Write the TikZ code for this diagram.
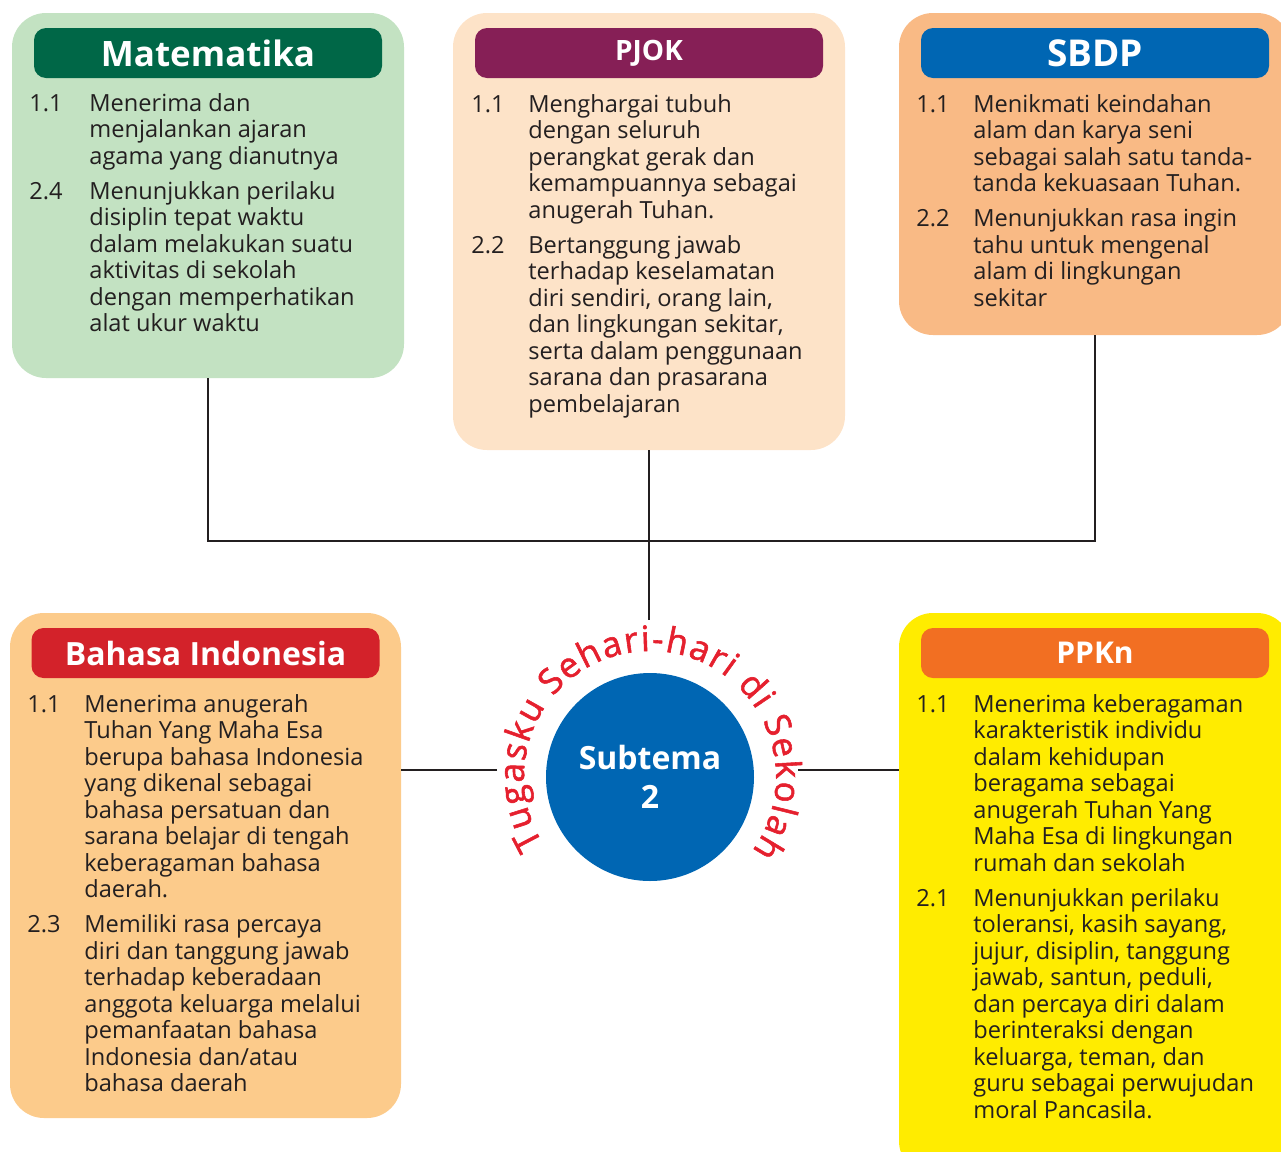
\documentclass[tikz,border=0pt]{standalone}
\usepackage{fontspec}
\setmainfont{Open Sans}
\newfontfamily\arcfont[FakeBold=1.6]{Open Sans}
\usetikzlibrary{positioning}
\usetikzlibrary{decorations.text}

\definecolor{ink}{HTML}{231F20}
\definecolor{matbg}{HTML}{C3E2C2}
\definecolor{mathead}{HTML}{006747}
\definecolor{pjokbg}{HTML}{FDE3C8}
\definecolor{pjokhead}{HTML}{861F56}
\definecolor{sbdpbg}{HTML}{F9BA85}
\definecolor{sbdphead}{HTML}{0066B3}
\definecolor{bibg}{HTML}{FCCB8B}
\definecolor{bihead}{HTML}{D3222A}
\definecolor{ppknbg}{HTML}{FFEC00}
\definecolor{ppknhead}{HTML}{F26F22}
\definecolor{subblue}{HTML}{0066B3}
\definecolor{arcred}{HTML}{E5202E}

\begin{document}
\begin{tikzpicture}[x=0.5pt,y=0.5pt,
    box/.style={rounded corners=17pt,minimum width=196pt,inner sep=0pt},
    head/.style={rounded corners=6pt,minimum width=174pt,minimum height=25pt,inner sep=0pt,text=white},
    body/.style={anchor=north west,inner sep=0pt,text=ink,font=\fontsize{11.8}{13.25}\selectfont},
    line/.style={draw=ink,line width=1.2pt}]
  \useasboundingbox (0,0) rectangle (1281,-1152);

  % boxes
  \node[box,fill=matbg,minimum height=182.5pt] (mat) at (208,-195.5) {};
  \node[box,fill=pjokbg,minimum height=218.5pt] (pjok) at (649,-231.5) {};
  \node[box,fill=sbdpbg,minimum height=161pt] (sbdp) at (1095,-174) {};
  \node[box,fill=bibg,minimum width=195.5pt,minimum height=252.5pt] (bi) at (205.5,-865.5) {};
  \node[box,fill=ppknbg,minimum height=281pt] (ppkn) at (1095,-894) {};

  % headers
  \node[head,fill=mathead,below=7.5pt of mat.north,font=\bfseries\fontsize{17.5}{20}\selectfont] (mattitle) {Matematika};
  \node[head,fill=pjokhead,below=7.5pt of pjok.north,font=\bfseries\fontsize{14}{16}\selectfont] (pjoktitle) {PJOK};
  \node[head,fill=sbdphead,below=7.5pt of sbdp.north,font=\bfseries\fontsize{18.5}{20}\selectfont] (sbdptitle) {SBDP};
  \node[head,fill=bihead,below=7.5pt of bi.north,font=\bfseries\fontsize{16}{18}\selectfont] (bititle) {Bahasa Indonesia};
  \node[head,fill=ppknhead,below=7.5pt of ppkn.north,font=\bfseries\fontsize{15}{17}\selectfont] (ppkntitle) {PPKn};

  % competencies
  \node[body] (mattext) at (29,-92.5) {\begin{tabular}{@{}p{30pt}@{}l@{}}
    1.1 & Menerima dan\\
        & menjalankan ajaran\\
        & agama yang dianutnya\\[4.25pt]
    2.4 & Menunjukkan perilaku\\
        & disiplin tepat waktu\\
        & dalam melakukan suatu\\
        & aktivitas di sekolah\\
        & dengan memperhatikan\\
        & alat ukur waktu
  \end{tabular}};
  \node[body] (pjoktext) at (471,-93.5) {\begin{tabular}{@{}p{28.5pt}@{}l@{}}
    1.1 & Menghargai tubuh\\
        & dengan seluruh\\
        & perangkat gerak dan\\
        & kemampuannya sebagai\\
        & anugerah Tuhan.\\[4.25pt]
    2.2 & Bertanggung jawab\\
        & terhadap keselamatan\\
        & diri sendiri, orang lain,\\
        & dan lingkungan sekitar,\\
        & serta dalam penggunaan\\
        & sarana dan prasarana\\
        & pembelajaran
  \end{tabular}};
  \node[body] (sbdptext) at (916,-93.5) {\begin{tabular}{@{}p{28.5pt}@{}l@{}}
    1.1 & Menikmati keindahan\\
        & alam dan karya seni\\
        & sebagai salah satu tanda-\\
        & tanda kekuasaan Tuhan.\\[4.25pt]
    2.2 & Menunjukkan rasa ingin\\
        & tahu untuk mengenal\\
        & alam di lingkungan\\
        & sekitar
  \end{tabular}};
  \node[body] (bitext) at (27,-693.5) {\begin{tabular}{@{}p{28.5pt}@{}l@{}}
    1.1 & Menerima anugerah\\
        & Tuhan Yang Maha Esa\\
        & berupa bahasa Indonesia\\
        & yang dikenal sebagai\\
        & bahasa persatuan dan\\
        & sarana belajar di tengah\\
        & keberagaman bahasa\\
        & daerah.\\[4.25pt]
    2.3 & Memiliki rasa percaya\\
        & diri dan tanggung jawab\\
        & terhadap keberadaan\\
        & anggota keluarga melalui\\
        & pemanfaatan bahasa\\
        & Indonesia dan/atau\\
        & bahasa daerah
  \end{tabular}};
  \node[body] (ppkntext) at (916,-693.5) {\begin{tabular}{@{}p{28.5pt}@{}l@{}}
    1.1 & Menerima keberagaman\\
        & karakteristik individu\\
        & dalam kehidupan\\
        & beragama sebagai\\
        & anugerah Tuhan Yang\\
        & Maha Esa di lingkungan\\
        & rumah dan sekolah\\[4.25pt]
    2.1 & Menunjukkan perilaku\\
        & toleransi, kasih sayang,\\
        & jujur, disiplin, tanggung\\
        & jawab, santun, peduli,\\
        & dan percaya diri dalam\\
        & berinteraksi dengan\\
        & keluarga, teman, dan\\
        & guru sebagai perwujudan\\
        & moral Pancasila.
  \end{tabular}};

  % subtema
  \node[circle,fill=subblue,minimum size=104pt,inner sep=0pt,text=white,align=center,
        font=\bfseries\fontsize{16}{19.5}\selectfont] (sub) at (650,-777) {Subtema\\2};
  \path[decorate,decoration={text along path,text color=arcred,text align=fit to path,
        text={|\arcfont\fontsize{17.5}{20}\selectfont|Tugasku Sehari-hari di Sekolah}}]
    ([shift={(212:63pt)}]sub.center) arc[start angle=212,end angle=-36,radius=63pt];

  % connectors
  \coordinate (bus) at (645,-541);
  \coordinate (arctop) at (645,-620);
  \coordinate (arcl) at (497,-770);
  \coordinate (arcr) at (798,-770);
  \draw[line] (mat.south) |- (bus) -| (sbdp.south);
  \draw[line] (pjok.south) -- (pjok.south |- arctop);
  \draw[line] (arcl) -- (arcl -| bi.east);
  \draw[line] (arcr) -- (arcr -| ppkn.west);
\end{tikzpicture}
\end{document}
